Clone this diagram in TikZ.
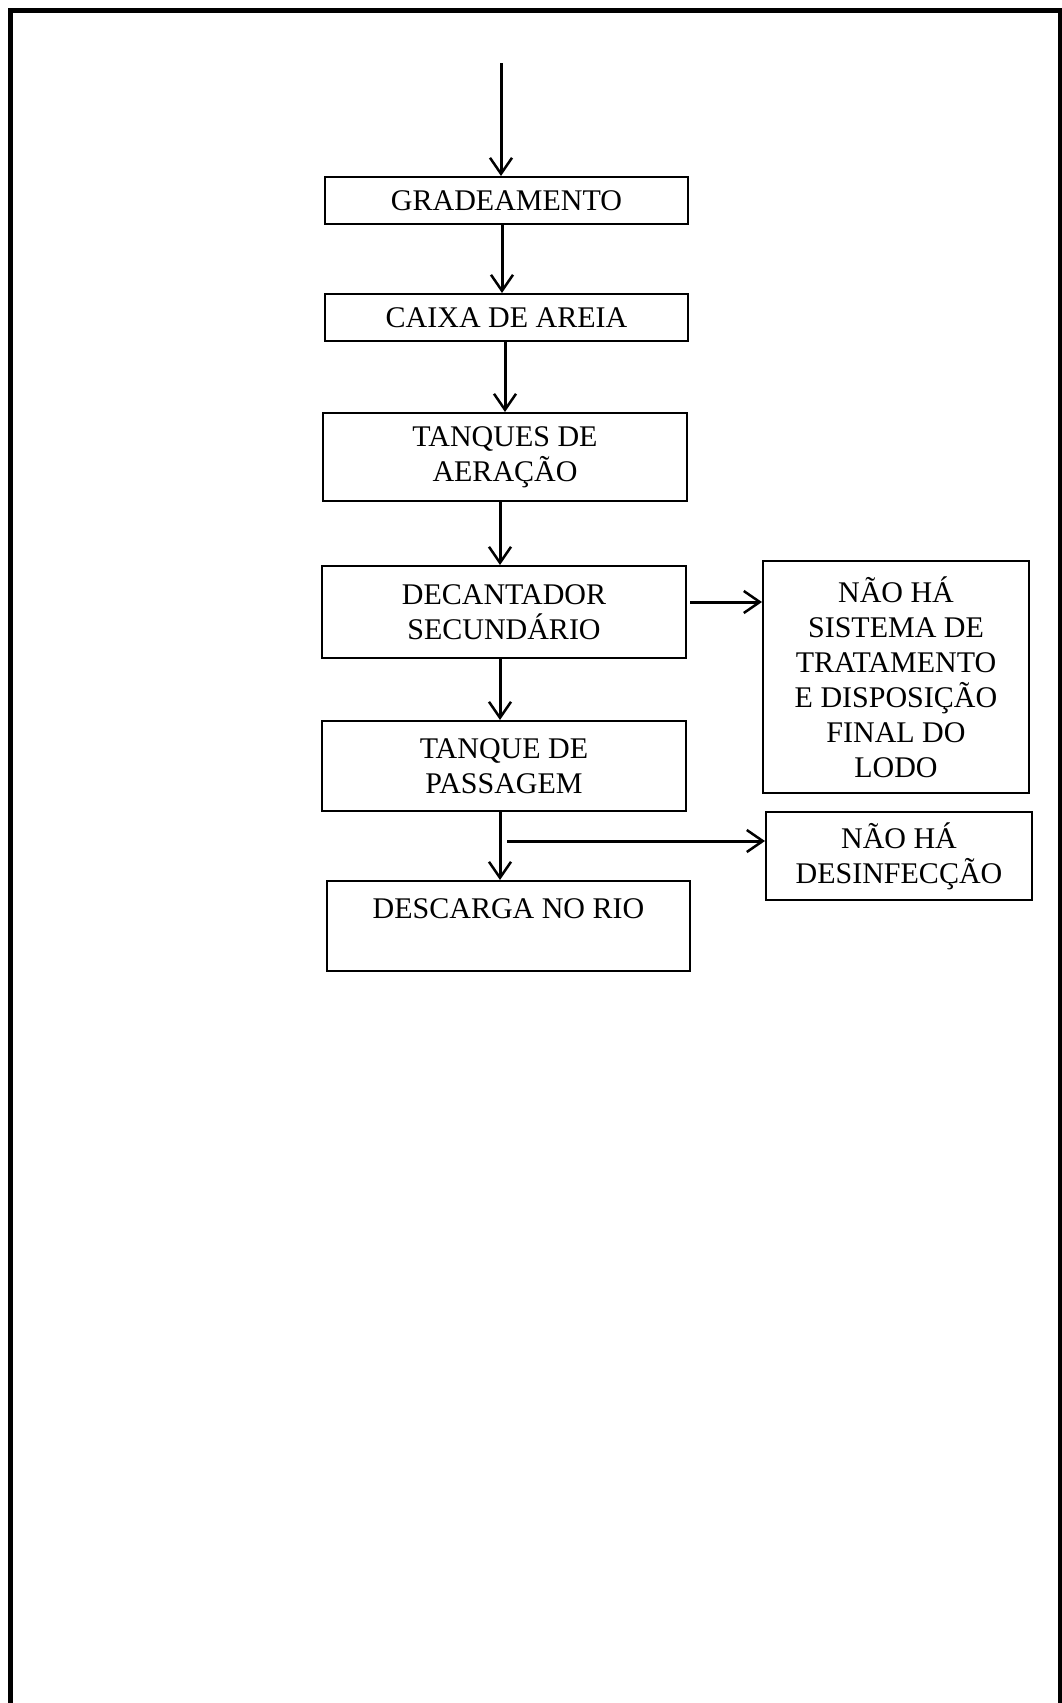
\documentclass[tikz,border=0pt]{standalone}
\usepackage{fontspec}
\setmainfont{Liberation Serif}
\usetikzlibrary{arrows.meta,calc}
\begin{document}
\begin{tikzpicture}[x=1pt,y=-1pt,
  box/.style={draw=black,line width=2pt,inner sep=0pt,align=center,
    font=\fontsize{30}{35}\selectfont},
  arr/.style={draw=black,line width=3pt,-{Straight Barb[length=16pt,width=22pt,line width=2.5pt]}},
  frame/.style={draw=black,line width=5pt}]
\useasboundingbox (0,0) rectangle (1062,1703);
% outer frame
\draw[frame] (10,1703) -- (10,10) -- (1060,10) -- (1060,1703);
% boxes
\node[box,minimum width=363,minimum height=47] (grad) at (506.5,200.5) {GRADEAMENTO};
\node[box,minimum width=363,minimum height=47] (caixa) at (506.5,317.5) {CAIXA DE AREIA};
\node[box,minimum width=364,minimum height=88] (tanq) at (505,457) {TANQUES DE\\AERAÇÃO};
\node[box,minimum width=364,minimum height=92] (decant) at (504,612) {DECANTADOR\\SECUNDÁRIO};
\node[box,minimum width=364,minimum height=90] (pass) at (504,766) {TANQUE DE\\PASSAGEM};
\node[box,minimum width=363,minimum height=90] (desc) at (508.5,926) {DESCARGA NO RIO\\~};
\node[box,minimum width=266,minimum height=232] (lodo) at (896,677) {NÃO HÁ\\SISTEMA DE\\TRATAMENTO\\E DISPOSIÇÃO\\FINAL DO\\LODO};
\node[box,minimum width=266,minimum height=88] (desinf) at (899,856) {NÃO HÁ\\DESINFECÇÃO};
% connectors
\coordinate (in) at (501,63);
\draw[arr] (in) -- (in |- grad.north);
\coordinate (c1) at (502,0);
\draw[arr] (c1 |- grad.south) -- (c1 |- caixa.north);
\coordinate (c2) at (505,0);
\draw[arr] (c2 |- caixa.south) -- (c2 |- tanq.north);
\coordinate (c3) at (500,0);
\draw[arr] (c3 |- tanq.south) -- (c3 |- decant.north);
\draw[arr] (c3 |- decant.south) -- (c3 |- pass.north);
\draw[arr] (c3 |- pass.south) -- (c3 |- desc.north);
\coordinate (d1) at (690,602);
\draw[arr] (d1) -- (d1 -| lodo.west);
\coordinate (branch) at (507,841);
\draw[arr] (branch) -- (branch -| desinf.west);
\end{tikzpicture}
\end{document}
